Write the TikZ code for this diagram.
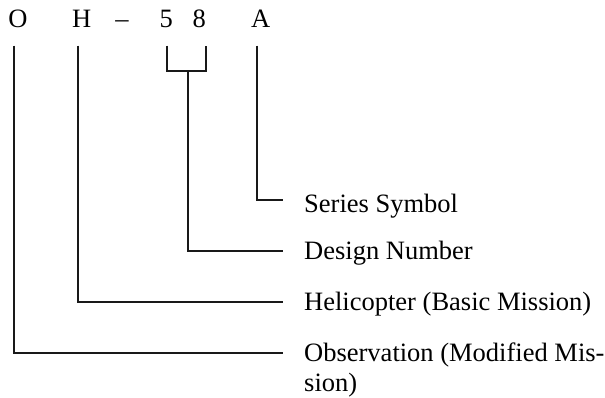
\documentclass[tikz,border=0pt]{standalone}
\usepackage{fontspec}
\setmainfont{Liberation Serif}
\begin{document}
\begin{tikzpicture}[x=1pt,y=-1pt,
  letter/.style={inner sep=0pt,anchor=base,font=\fontsize{26.5}{30}\selectfont},
  lbl/.style={inner sep=0pt,anchor=base west,align=left,font=\fontsize{26.5}{30}\selectfont},
  conn/.style={line width=1.9pt,line join=miter,color=black!90}]
\useasboundingbox (0,0) rectangle (605,398);
% top letters
\node[letter] (O) at (18,28) {O};
\node[letter] (H) at (81.7,28) {H};
\node[letter] (dash) at (122,28) {–};
\node[letter] (five) at (166.3,28) {5};
\node[letter] (eight) at (199.2,28) {8};
\node[letter] (A) at (260.8,28) {A};
% labels
\node[lbl] (ser) at (304,212.5) {Series Symbol};
\node[lbl] (des) at (304,259) {Design Number};
\node[lbl] (hel) at (304,310.5) {Helicopter (Basic Mission)};
\node[lbl] (obs) at (304,391.5) {Observation (Modified Mis-\\sion)};
% connector points
\coordinate (ot) at (13.7,45.7);
\coordinate (ht) at (77.7,45.7);
\coordinate (b5) at (167.3,45.7);
\coordinate (b8) at (205.7,45.7);
\coordinate (bm) at (187.7,70.7);
\coordinate (at) at (256.7,45.7);
\coordinate (se) at (283,200);
\coordinate (de) at (283,251);
\coordinate (he) at (283,302.3);
\coordinate (oe) at (283,353.3);
% connectors
\draw[conn] (at) |- (se);
\draw[conn] (b5) |- (bm) -| (b8);
\draw[conn] (bm) |- (de);
\draw[conn] (ht) |- (he);
\draw[conn] (ot) |- (oe);
\end{tikzpicture}
\end{document}
